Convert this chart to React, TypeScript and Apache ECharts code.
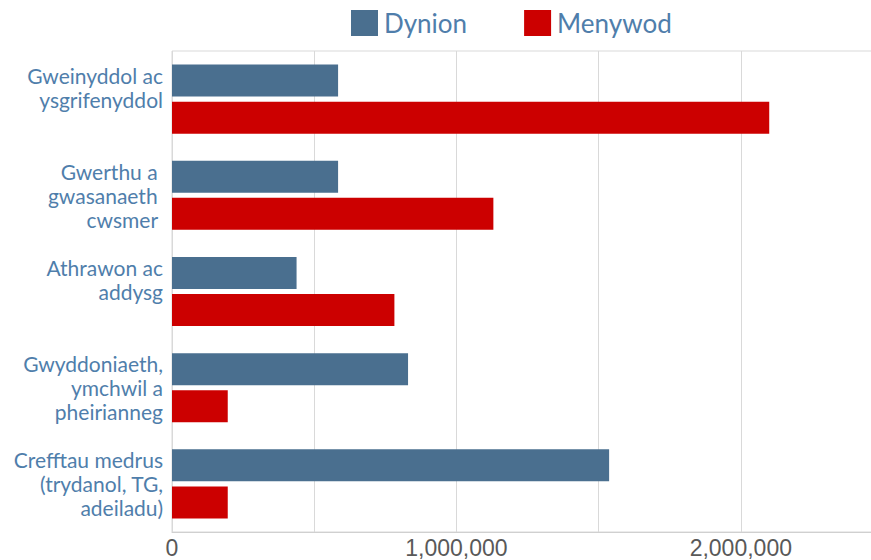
import React, { useEffect, useRef } from "react";
import * as echarts from "echarts";

const categories = [
  "Gweinyddol ac\nysgrifenyddol\n ",
  "Gwerthu a \ngwasanaeth \ncwsmer ",
  "Athrawon ac\naddysg\n ",
  "Gwyddoniaeth,\nymchwil a\npheirianneg",
  "Crefftau medrus\n(trydanol, TG,\nadeiladu)",
];
const seriesNames = ["Dynion", "Menywod"];
const dynion = [584000, 584000, 438000, 830000, 1537000];
const menywod = [2100000, 1130000, 782000, 196000, 196000];
const xTickLabels = ["0", "1,000,000", "2,000,000"];

export default function App() {
  const ref = useRef<HTMLDivElement>(null);
  useEffect(() => {
    if (!ref.current) return;
    const chart = echarts.init(ref.current, undefined, { renderer: "svg" });
    const labelColor = "#4f7eab";
    const font = "Lato, 'Open Sans', sans-serif";
    chart.setOption({
      animation: false,
      legend: {
        left: 351,
        top: 10,
        padding: 0,
        itemWidth: 27,
        itemHeight: 26,
        itemGap: 57,
        icon: "rect",
        data: seriesNames,
        textStyle: { fontSize: 26, color: labelColor, fontFamily: font, padding: [0, 0, 0, 1] },
      },
      grid: {
        left: 172,
        top: 51,
        width: 711,
        height: 481,
        show: true,
        borderColor: "#d9d9d9",
        borderWidth: 1,
        containLabel: false,
      },
      xAxis: {
        type: "value",
        min: 0,
        max: 2500000,
        interval: 500000,
        axisLine: { show: true, lineStyle: { color: "#d0d0d0" } },
        axisTick: { show: false },
        splitLine: { show: true, lineStyle: { color: "#d9d9d9", width: 1 } },
        axisLabel: {
          fontSize: 23,
          color: "#595959",
          fontFamily: "'Liberation Sans', Arial, sans-serif",
          margin: 4,
          formatter: (v: number) => {
            const idx = v / 1000000;
            return Number.isInteger(idx) && idx < xTickLabels.length ? xTickLabels[idx] : "";
          },
        },
      },
      yAxis: {
        type: "category",
        inverse: true,
        data: categories,
        axisLine: { show: false },
        axisTick: { show: false },
        splitLine: { show: false },
        axisLabel: {
          fontSize: 21,
          lineHeight: 24,
          color: labelColor,
          fontFamily: font,
          margin: 9,
          align: "right",
        },
      },
      series: [
        {
          name: seriesNames[0],
          type: "bar",
          data: dynion,
          barWidth: 32,
          barGap: "16%",
          itemStyle: { color: "#4a6f8f" },
        },
        {
          name: seriesNames[1],
          type: "bar",
          data: menywod,
          barWidth: 32,
          itemStyle: { color: "#cc0000" },
        },
      ],
    });
    return () => chart.dispose();
  }, []);
  return (
    <div
      style={{
        position: "absolute",
        left: 0,
        top: 0,
        width: 871,
        height: 560,
        overflow: "hidden",
      }}
    >
      <div ref={ref} style={{ width: 900, height: 560 }} />
    </div>
  );
}
